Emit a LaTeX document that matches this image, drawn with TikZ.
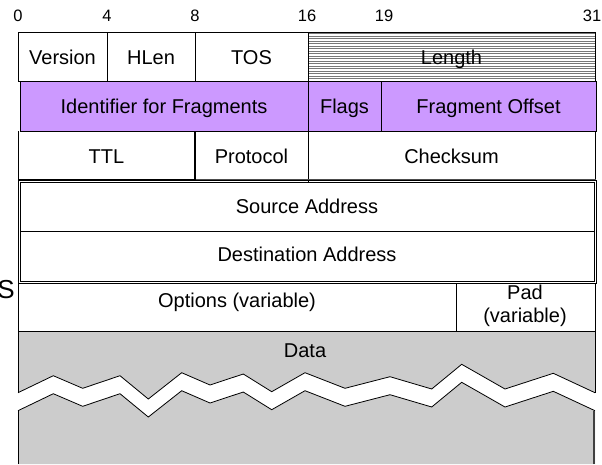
\documentclass[tikz,border=0pt]{standalone}
\usepackage{fontspec}
\setmainfont{Liberation Sans}
\definecolor{fragpurple}{RGB}{204,153,255}
\definecolor{datagray}{RGB}{204,204,204}
\definecolor{hatchgray}{RGB}{120,120,120}
\begin{document}
\begin{tikzpicture}[x=1pt,y=-1pt,
  font=\fontsize{20}{22}\selectfont,
  cell/.style={draw=black, line width=0.8pt},
  hatchline/.style={draw=hatchgray, line width=0.4pt},
  lbl/.style={inner sep=0pt, anchor=center, text height=14.3pt, text depth=0pt},
  bitno/.style={inner sep=0pt, anchor=center, text height=11.8pt, text depth=0pt,
    font=\fontsize{16.5}{18}\selectfont}]
\useasboundingbox (0,0) rectangle (602,464);

% ---- bit numbers ----
\node[bitno] (b0)  at (18,16)  {0};
\node[bitno] (b4)  at (107,16) {4};
\node[bitno] (b8)  at (195,16) {8};
\node[bitno] (b16) at (307,16) {16};
\node[bitno] (b19) at (384,16) {19};
\node[bitno] (b31) at (592,16) {31};

% ---- row 1: version, header length, TOS, total length ----
\foreach \yy in {33.5,36,...,80}
  \draw[hatchline] (309,\yy) -- (596,\yy);
\draw[cell] (18,32) rectangle (308,81);
\draw[cell] (308,32) rectangle (595,81);
\draw[cell] (107,32) -- (107,81);
\draw[cell] (195,32) -- (195,81);

% ---- row 2: fragmentation fields ----
\draw[cell, fill=fragpurple] (20,81) rectangle (596,131);
\draw[cell] (308,81) -- (308,131);
\draw[cell] (381,81) -- (381,131);

% ---- row 3: TTL, protocol, checksum ----
\draw[cell] (18,131) -- (18,180);
\draw[cell] (595,131) -- (595,180);
\draw[cell] (195,131) -- (195,180);
\draw[cell] (308,131) -- (308,183);
\draw[line width=2pt, black!70] (18,180) -- (596,180);
\draw[line width=1.4pt] (195,131) -- (195,180) -- (18,180);

% ---- rows 4-5: addresses (boxed twice) ----
\draw[cell] (18,180) rectangle (596,283);
\draw[cell] (20,182) rectangle (594,281);
\draw[cell] (20,231) -- (594,231);

% ---- row 6: options and padding ----
\draw[cell] (18,283) -- (18,331);
\draw[cell] (595,283) -- (595,331);
\draw[cell] (456,283) -- (456,331);

% ---- data, broken by a jagged gap ----
\def\jag{(53.3,375.7) -- (82.7,388.3) -- (120,375.7) -- (148.3,399) -- (181.7,372.7)
  -- (210,385) -- (243.3,374) -- (271.7,391.7) -- (305,372.7) -- (345,388.3)
  -- (390,376.7) -- (431.7,389) -- (461.7,364.3) -- (505,389) -- (553.3,373.3)}
\fill[datagray] (18,331) -- (595,331) -- (595,392.7) -- (553.3,373.3) -- (505,389)
  -- (461.7,364.3) -- (431.7,389) -- (390,376.7) -- (345,388.3) -- (305,372.7)
  -- (271.7,391.7) -- (243.3,374) -- (210,385) -- (181.7,372.7) -- (148.3,399)
  -- (120,375.7) -- (82.7,388.3) -- (53.3,375.7) -- (18,392.7) -- cycle;
\draw[cell] (18,392.7) -- (18,331) -- (595,331) -- (595,392.7);
\draw[cell] (18,392.7) -- \jag -- (595,392.7);
\begin{scope}[yshift=-18pt]
  \fill[datagray] (18,392.7) -- \jag -- (595,392.7) -- (595,446) -- (18,446) -- cycle;
  \draw[cell] (18,392.7) -- \jag -- (595,392.7);
  \draw[cell] (18,392.7) -- (18,446);
  \draw[line width=1.4pt, black!75] (594,392.7) -- (594,446);
\end{scope}

% ---- field labels ----
\node[lbl] (ver)   at (62.5,57)   {Version};
\node[lbl] (hlen)  at (151,57)    {HLen};
\node[lbl] (tos)   at (251.5,57)  {TOS};
\node[lbl] (len)   at (451.5,57)  {Length};
\node[lbl] (ident) at (164,106)   {Identifier for Fragments};
\node[lbl] (flags) at (344.5,106) {Flags};
\node[lbl] (foff)  at (488.5,106) {Fragment Offset};
\node[lbl] (ttl)   at (106.5,156) {TTL};
\node[lbl] (proto) at (251.5,156) {Protocol};
\node[lbl] (csum)  at (451.5,156) {Checksum};
\node[lbl] (src)   at (307,206)   {Source Address};
\node[lbl] (dst)   at (307,254)   {Destination Address};
\node[lbl] (opts)  at (237,300)   {Options (variable)};
\node[lbl] (pad)   at (525,292)   {Pad};
\node[lbl] (padv)  at (525,315)   {(variable)};
\node[lbl] (data)  at (305,350)   {Data};
\node[inner sep=0pt, anchor=east, text height=18.6pt, text depth=0pt,
  font=\fontsize{26}{28}\selectfont] (cut) at (15,289) {S};
\end{tikzpicture}
\end{document}
